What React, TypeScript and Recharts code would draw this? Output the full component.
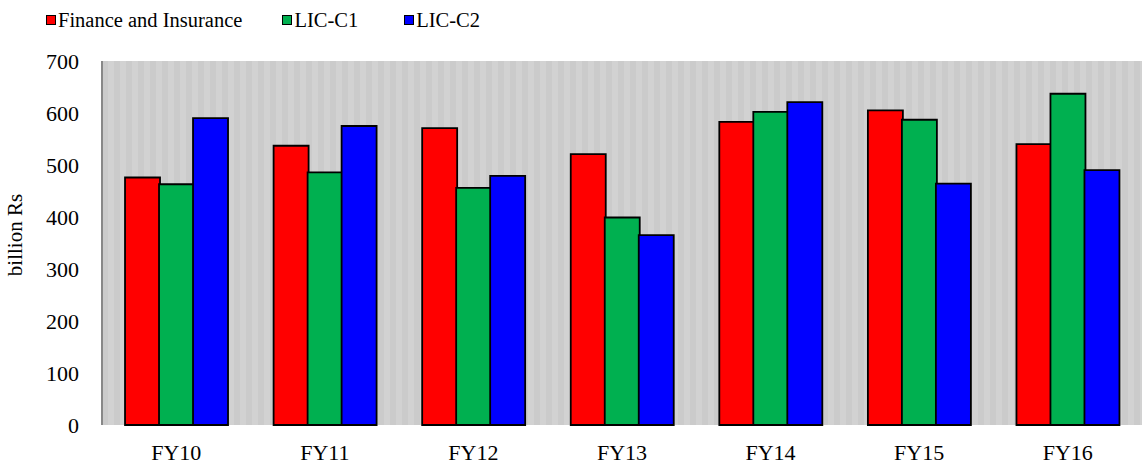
import React from 'react';
import { BarChart, Bar, XAxis, YAxis, CartesianGrid } from 'recharts';

const categories = ['FY10', 'FY11', 'FY12', 'FY13', 'FY14', 'FY15', 'FY16'];
const financeInsurance = [476, 537, 571, 521, 583, 605, 540];
const licC1 = [463, 486, 456, 399, 602, 587, 637];
const licC2 = [590, 575, 479, 365, 621, 464, 490];
const yTicks = [0, 100, 200, 300, 400, 500, 600, 700];
const edgeTicks = [0, 1, 2, 3, 4, 5, 6, 7];

const seriesInfo = [
  { key: 'fin', name: 'Finance and Insurance', color: '#FF0000' },
  { key: 'c1', name: 'LIC-C1', color: '#00B050' },
  { key: 'c2', name: 'LIC-C2', color: '#0000FF' },
];

const data = categories.map((c, i) => ({
  cat: c,
  fin: financeInsurance[i],
  c1: licC1[i],
  c2: licC2[i],
}));

const FONT = 'Liberation Serif, Times New Roman, DejaVu Serif, serif';

const LegendBlock = () => (
  <div
    style={{
      position: 'absolute',
      left: 46,
      top: 8,
      display: 'flex',
      fontFamily: FONT,
      fontSize: 20.5,
      lineHeight: '24px',
      color: '#000',
      whiteSpace: 'nowrap',
    }}
  >
    {seriesInfo.map((s, i) => (
      <div
        key={s.key}
        style={{ display: 'flex', alignItems: 'center', marginRight: i === 0 ? 40 : 46 }}
      >
        <span
          style={{
            display: 'inline-block',
            width: 8,
            height: 8,
            background: s.color,
            border: '1.5px solid #000',
            marginRight: 2,
          }}
        />
        <span>{s.name}</span>
      </div>
    ))}
  </div>
);

export default function App() {
  return (
    <div style={{ position: 'absolute', left: 0, top: 0, width: 1142, height: 466 }}>
      <BarChart
        width={1142}
        height={466}
        data={data}
        margin={{ top: 61, right: 0, bottom: 0, left: 0 }}
        barCategoryGap="15.5%"
        barGap={-1}
      >
        <defs>
          <pattern id="stripes" width="12" height="10" patternUnits="userSpaceOnUse">
            <rect x="0" y="0" width="12" height="10" fill="#d2d2d2" />
            <rect x="6" y="0" width="6" height="10" fill="#cbcbcb" />
          </pattern>
        </defs>
        <CartesianGrid
          horizontal={false}
          vertical={false}
          fill="url(#stripes)"
          fillOpacity={1}
        />
        <XAxis
          xAxisId="edges"
          type="number"
          domain={[0, 7]}
          ticks={edgeTicks}
          tickFormatter={() => ''}
          height={0}
          axisLine={{ stroke: '#888888', strokeWidth: 2 }}
          tickLine={{ stroke: '#888888', strokeWidth: 1.5 }}
          tickSize={6}
          allowDataOverflow
        />
        <XAxis
          dataKey="cat"
          xAxisId="cat"
          height={41}
          axisLine={false}
          tickLine={false}
          tick={{ fill: '#000', fontFamily: FONT, fontSize: 22 }}
          tickMargin={13}
          interval={0}
        />
        <YAxis
          width={102}
          domain={[0, 700]}
          ticks={yTicks}
          interval={0}
          axisLine={{ stroke: '#888888', strokeWidth: 2 }}
          tickLine={false}
          tickMargin={17}
          tick={{ fill: '#000', fontFamily: FONT, fontSize: 22 }}
          label={{
            value: 'billion Rs',
            angle: -90,
            position: 'insideLeft',
            dx: 10,
            dy: -8,
            style: { fill: '#000', fontFamily: FONT, fontSize: 21, textAnchor: 'middle' },
          }}
        />
        {seriesInfo.map((s) => (
          <Bar
            key={s.key}
            xAxisId="cat"
            dataKey={s.key}
            name={s.name}
            fill={s.color}
            stroke="#000"
            strokeWidth={1.8}
            isAnimationActive={false}
          />
        ))}
      </BarChart>
      <LegendBlock />
    </div>
  );
}
